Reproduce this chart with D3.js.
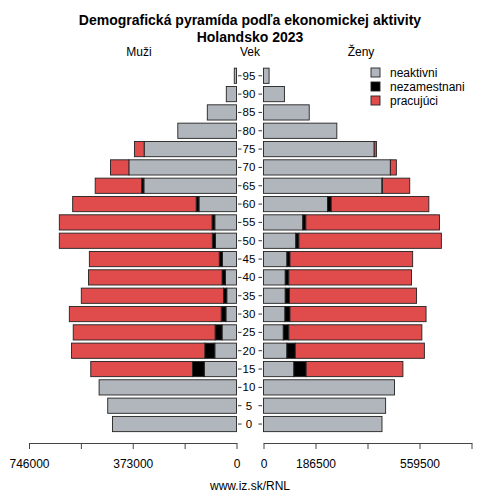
<!DOCTYPE html>
<html><head><meta charset="utf-8">
<script src="https://cdn.jsdelivr.net/npm/d3@7"></script>
<style>body{margin:0;background:#fff}svg{display:block}text{font-family:"Liberation Sans",Arial,sans-serif}</style>
</head><body>
<svg id="c" width="500" height="500"></svg>
<script>
const ages = [95,90,85,80,75,70,65,60,55,50,45,40,35,30,25,20,15,10,5,0];
const maleInactive   = [8000,36700,105000,211000,332000,387000,333000,135000,78000,76000,51000,40000,35000,38000,52000,78000,116000,494000,463000,446000];
const maleUnemployed = [0,0,0,0,0,0,8000,10000,10000,11000,11000,12000,12000,17000,25000,36000,42000,0,0,0];
const maleEmployed   = [0,0,0,0,35000,66000,167000,444000,549000,550000,467000,480000,511000,546000,510000,479000,366000,0,0,0];
const femInactive    = [20000,75000,164000,263000,397000,455000,425000,230000,141000,116000,84000,78000,78000,77000,71000,84000,109000,470000,438000,425000];
const femUnemployed  = [0,0,0,0,0,0,1500,13000,11000,11000,11000,13000,15000,18000,20000,30000,44000,0,0,0];
const femEmployed    = [0,0,0,0,8000,21500,98000,350000,479000,511000,440000,440000,456000,488000,477000,463000,347000,0,0,0];
const seriesNames = ["neaktivni","nezamestnani","pracujúci"];
const seriesColors = ["#b1b6bd","#000000","#e04b4c"];
const leftTicks = [746000,559500,373000,186500,0];
const leftTickLabels = ["746000","","373000","","0"];
const rightTicks = [0,186500,373000,559500,746000];
const rightTickLabels = ["0","186500","","559500",""];
const title1 = "Demografická pyramída podľa ekonomickej aktivity";
const title2 = "Holandsko 2023";

const svg = d3.select("#c");
const xL = d3.scaleLinear().domain([0,746000]).range([236.5,29]);
const xR = d3.scaleLinear().domain([0,746000]).range([263.5,471.5]);
const y = d3.scaleBand().domain(ages).range([66.6,433.2]).paddingInner(0.17).paddingOuter(0.085);

svg.append("text").attr("x",250).attr("y",25).attr("text-anchor","middle").attr("font-size",14).attr("font-weight","bold").text(title1);
svg.append("text").attr("x",250).attr("y",42).attr("text-anchor","middle").attr("font-size",14).attr("font-weight","bold").text(title2);
svg.append("text").attr("x",139).attr("y",56).attr("text-anchor","middle").attr("font-size",12).text("Muži");
svg.append("text").attr("x",250).attr("y",56).attr("text-anchor","middle").attr("font-size",12).text("Vek");
svg.append("text").attr("x",361).attr("y",56).attr("text-anchor","middle").attr("font-size",12).text("Ženy");

function drawSide(x, sets){
  ages.forEach((a,i)=>{
    let cum = 0;
    sets.forEach((arr,k)=>{
      const v = arr[i];
      if(v<=0){return;}
      const x0 = x(cum), x1 = x(cum+v);
      svg.append("rect").attr("x",Math.min(x0,x1)).attr("y",y(a)).attr("width",Math.abs(x1-x0)).attr("height",y.bandwidth())
        .attr("fill",seriesColors[k]).attr("stroke","#222").attr("stroke-width",0.9);
      cum += v;
    });
  });
}
drawSide(xL,[maleInactive,maleUnemployed,maleEmployed]);
drawSide(xR,[femInactive,femUnemployed,femEmployed]);

// age labels and ticks
ages.forEach(a=>{
  const cy = y(a)+y.bandwidth()/2;
  svg.append("line").attr("x1",238).attr("x2",241.5).attr("y1",cy).attr("y2",cy).attr("stroke","#333");
  svg.append("line").attr("x1",258.5).attr("x2",262).attr("y1",cy).attr("y2",cy).attr("stroke","#333");
  svg.append("text").attr("x",249).attr("y",cy+4).attr("text-anchor","middle").attr("font-size",11.5).text(a);
});

// bottom axes
const axY = 443;
const gL = svg.append("g").attr("transform",`translate(0,${axY})`)
  .call(d3.axisBottom(xL).tickValues(leftTicks).tickSize(6).tickFormat((d,i)=>leftTickLabels[i]));
const gR = svg.append("g").attr("transform",`translate(0,${axY})`)
  .call(d3.axisBottom(xR).tickValues(rightTicks).tickSize(6).tickFormat((d,i)=>rightTickLabels[i]));
[gL,gR].forEach(g=>{
  g.selectAll("path").attr("stroke","#444").attr("d",function(){return d3.select(this).attr("d").replace(/V6/g,"V0").replace(/^M([\d.]+),6/,"M$1,0");});
  g.selectAll("line").attr("stroke","#444");
  g.selectAll("text").attr("font-size",12).attr("font-family","Liberation Sans, Arial, sans-serif").attr("fill","#000").attr("dy","1.3em");
});

svg.append("text").attr("x",250).attr("y",490).attr("text-anchor","middle").attr("font-size",12).text("www.iz.sk/RNL");

// legend
seriesNames.forEach((n,i)=>{
  const ly = 73 + i*14;
  svg.append("rect").attr("x",371).attr("y",ly-5).attr("width",9).attr("height",9).attr("fill",seriesColors[i]).attr("stroke","#222").attr("stroke-width",0.9);
  svg.append("text").attr("x",390).attr("y",ly+4).attr("font-size",12).text(n);
});
</script>
</body></html>
